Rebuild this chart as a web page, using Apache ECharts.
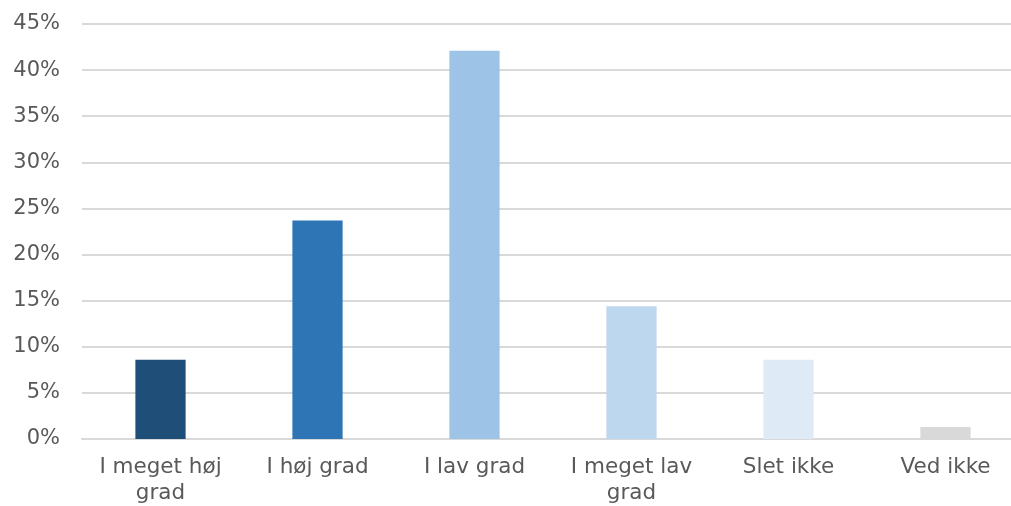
<!DOCTYPE html>
<html><head><meta charset="utf-8">
<script src="https://cdn.jsdelivr.net/npm/echarts@6/dist/echarts.min.js"></script>
<style>html,body{margin:0;padding:0;background:#fff;overflow:hidden}#c{width:1024px;height:506px}</style>
</head><body><div id="c"></div>
<script>
const categories = ["I meget høj\ngrad", "I høj grad", "I lav grad", "I meget lav\ngrad", "Slet ikke", "Ved ikke"];
const values = [8.6, 23.7, 42.1, 14.4, 8.6, 1.3];
const colors = ["#1F4E79", "#2E75B6", "#9DC3E6", "#BDD7EE", "#DEEBF7", "#D9D9D9"];
const chart = echarts.init(document.getElementById('c'));
chart.setOption({
  animation: false,
  grid: {left: 82, right: 0, top: 24, bottom: 65.5, containLabel: false},
  xAxis: {
    type: 'category', data: categories,
    axisLine: {show: true, lineStyle: {color: '#D9D9D9', width: 2}},
    axisTick: {show: false},
    axisLabel: {color: '#595959', fontFamily: 'DejaVu Sans', fontSize: 21.5, lineHeight: 26, margin: 15, interval: 0}
  },
  yAxis: {
    type: 'value', min: 0, max: 45, interval: 5,
    axisLabel: {formatter: '{value}%', color: '#595959', fontFamily: 'DejaVu Sans', fontSize: 21, margin: 22},
    splitLine: {lineStyle: {color: '#D9D9D9', width: 2}},
    axisLine: {show: false}, axisTick: {show: false}
  },
  series: [{
    type: 'bar', barWidth: '32%',
    data: values.map((v, i) => ({value: v, itemStyle: {color: colors[i]}}))
  }]
});
</script></body></html>
